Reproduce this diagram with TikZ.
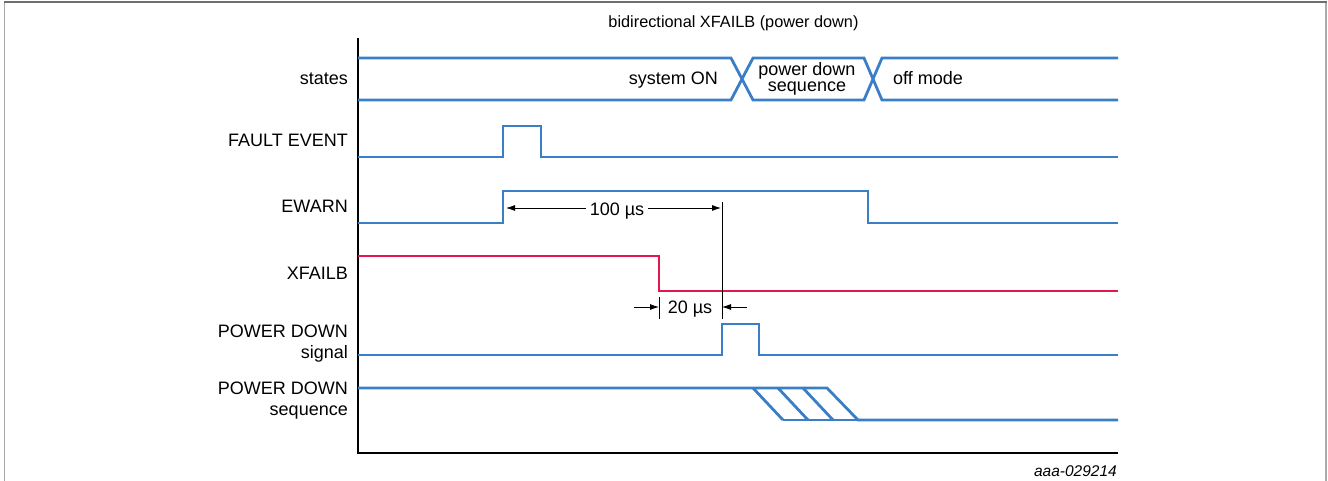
\documentclass[tikz,border=0pt]{standalone}
\usepackage{fontspec}
\setmainfont{Liberation Sans}
\usetikzlibrary{arrows.meta}
\definecolor{sigblue}{RGB}{59,126,200}
\definecolor{sigred}{RGB}{226,22,80}
\definecolor{frametop}{RGB}{110,110,110}
\definecolor{frameside}{RGB}{170,170,170}
\begin{document}
\begin{tikzpicture}[x=1pt,y=-1pt,
  wave/.style={draw=sigblue, line width=2.8pt, line join=miter},
  redwave/.style={draw=sigred, line width=2.8pt, line join=miter},
  lbl/.style={anchor=base east, inner sep=0pt, font=\fontsize{18}{21}\selectfont},
  txt/.style={anchor=base, inner sep=0pt, font=\fontsize{18}{21}\selectfont},
  dim/.style={draw=black, line width=0.8pt},
  tip/.style={-{Latex[length=9pt,width=6pt]}}]
\useasboundingbox (0,0) rectangle (1328,481);
% frame
\draw[frameside, line width=1.2pt] (4.5,481) -- (4.5,2);
\draw[frameside, line width=1.2pt] (1326,481) -- (1326,2);
\draw[frametop, line width=1.8pt] (4,2) -- (1327,2);
% axes
\coordinate (axtop) at (358,38);
\coordinate (axorg) at (358,453);
\coordinate (axend) at (1118,453);
\draw[line width=1.3pt] (axtop) -- (axorg) -- (axend);
% title
\node[txt, font=\fontsize{16.3}{19}\selectfont] (title) at (733.5,28) {bidirectional XFAILB (power down)};
% signal labels
\node[lbl] (lstates) at (348,85) {states};
\node[lbl] (lfault) at (348,147) {FAULT EVENT};
\node[lbl] (lewarn) at (348,213) {EWARN};
\node[lbl] (lxfailb) at (348,279) {XFAILB};
\node[lbl] (lpds1) at (348,337) {POWER DOWN};
\node[lbl] (lpds2) at (348,358) {signal};
\node[lbl] (lpdq1) at (348,394) {POWER DOWN};
\node[lbl] (lpdq2) at (348,415) {sequence};
% states bus
\draw[wave] (358,58) -- (731,58) -- (753,100) -- (864,100) -- (882,58) -- (1118,58);
\draw[wave] (358,100) -- (731,100) -- (753,58) -- (864,58) -- (882,100) -- (1118,100);
\node[txt, anchor=base east] (son) at (718,85) {system ON};
\node[txt] (pds1) at (807,76) {power down};
\node[txt] (pds2) at (807,92) {sequence};
\node[txt, anchor=base west] (offm) at (893,85) {off mode};
% FAULT EVENT
\draw[wave] (358,157) -- (503,157) -- (503,126) -- (541,126) -- (541,157) -- (1118,157);
% EWARN
\draw[wave] (358,223) -- (503,223) -- (503,191) -- (868,191) -- (868,223) -- (1118,223);
% XFAILB
\draw[redwave] (358,256) -- (659,256) -- (659,291) -- (1118,291);
% POWER DOWN signal
\draw[wave] (358,355) -- (722,355) -- (722,324) -- (759,324) -- (759,355) -- (1118,355);
% POWER DOWN sequence
\draw[wave] (358,388) -- (827,388) -- (858,420) -- (1118,420);
\draw[wave] (783,420) -- (858,420);
\draw[wave] (753,388) -- (783,420);
\draw[wave] (778,388) -- (808,420);
\draw[wave] (803,388) -- (833,420);
% timing reference line
\coordinate (reftop) at (722,202);
\coordinate (refbot) at (722,319);
\draw[dim] (reftop) -- (refbot);
% 100 us
\coordinate (e100l) at (506,208);
\coordinate (e100r) at (721,208);
\node[txt] (t100) at (617,215) {100 µs};
\draw[dim, tip] ([xshift=-4pt]t100.west |- e100l) -- (e100l);
\draw[dim, tip] ([xshift=4pt]t100.east |- e100r) -- (e100r);
% 20 us
\coordinate (tk20top) at (659,297);
\coordinate (tk20bot) at (659,319);
\draw[dim] (tk20top) -- (tk20bot);
\coordinate (s20l) at (634,307);
\coordinate (t20l) at (659,307);
\coordinate (s20r) at (747,307);
\coordinate (t20r) at (722,307);
\draw[dim, tip] (s20l) -- (t20l);
\draw[dim, tip] (s20r) -- (t20r);
\node[txt] (t20) at (690,313) {20 µs};
% figure id
\node[anchor=base east, inner sep=0pt, font=\fontsize{15.5}{18}\selectfont\itshape] (figid) at (1117,476) {aaa-029214};
\end{tikzpicture}
\end{document}
